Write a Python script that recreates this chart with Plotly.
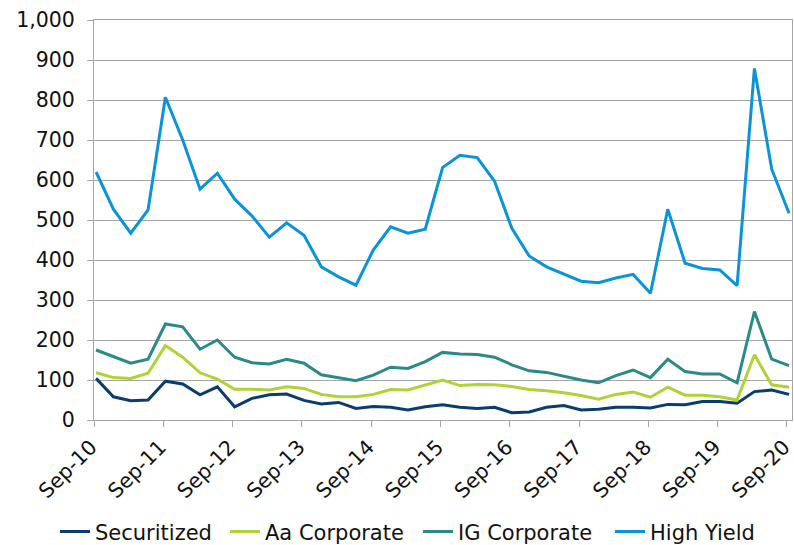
import plotly.graph_objects as go

quarters = [f"{m}-{y:02d}" for y in range(10, 21) for m in ["Mar", "Jun", "Sep", "Dec"]]
quarters = quarters[2:43]  # Sep-10 .. Sep-20

tick_labels = ["Sep-10", "Sep-11", "Sep-12", "Sep-13", "Sep-14", "Sep-15",
               "Sep-16", "Sep-17", "Sep-18", "Sep-19", "Sep-20"]

securitized = [104, 58, 48, 50, 97, 90, 63, 83, 33, 54, 63, 65, 49, 40, 44, 29, 34, 32, 25, 33,
               38, 32, 29, 32, 18, 20, 32, 36, 25, 27, 32, 32, 30, 39, 38, 46, 46, 42, 71, 75, 64]
aa_corporate = [118, 106, 104, 117, 186, 157, 118, 102, 77, 77, 75, 83, 79, 64, 58, 58, 64, 76, 75, 87,
                100, 86, 89, 88, 84, 76, 73, 68, 61, 52, 64, 70, 57, 82, 62, 62, 58, 50, 163, 88, 82]
ig_corporate = [175, 158, 142, 152, 240, 233, 177, 200, 157, 143, 140, 152, 142, 113, 106, 98, 112, 132, 129, 146,
                169, 165, 164, 157, 138, 123, 119, 110, 100, 93, 111, 125, 106, 152, 121, 115, 115, 93, 271, 152, 136]
high_yield = [620, 527, 467, 525, 807, 700, 577, 617, 552, 510, 457, 493, 462, 383, 358, 337, 425, 483, 467, 477,
              631, 662, 656, 597, 479, 410, 383, 365, 347, 343, 355, 364, 317, 527, 392, 379, 375, 336, 879, 627, 517]

series = [
    ("Securitized", securitized, "#0b3c6e"),
    ("Aa Corporate", aa_corporate, "#b0d236"),
    ("IG Corporate", ig_corporate, "#2a8a86"),
    ("High Yield", high_yield, "#0a93d6"),
]

fam = "DejaVu Sans, Verdana, sans-serif"
font = dict(family=fam, size=20.5, color="#111111")
grid = "#a6a6a6"

# one legend per series so each entry sits where the reference puts it
legend_ids = ["legend", "legend2", "legend3", "legend4"]
legend_left_px = [55, 225, 418, 610]

idx = list(range(len(quarters)))
fig = go.Figure()
for (name, vals, color), lid in zip(series, legend_ids):
    fig.add_trace(go.Scatter(x=idx, y=vals, mode="lines", name=name, legend=lid,
                             line=dict(color=color, width=3),
                             text=quarters, hovertemplate="%{text}: %{y}<extra>" + name + "</extra>"))

legends = {}
for lid, lx in zip(legend_ids, legend_left_px):
    legends[lid] = dict(orientation="h", xref="container", yref="container",
                        x=lx / 794, xanchor="left", y=0.024, yanchor="middle",
                        font=dict(family=fam, size=21, color="#111111"),
                        itemwidth=30, bgcolor="rgba(0,0,0,0)")

fig.update_layout(
    width=794, height=545,
    margin=dict(l=94, r=2, t=20, b=125, autoexpand=False),
    paper_bgcolor="white", plot_bgcolor="white",
    font=font,
    showlegend=True,
    **legends,
)
fig.update_xaxes(
    range=[-0.12, 40.17], automargin=False,
    tickvals=[4 * k - 0.12 for k in range(11)], ticktext=tick_labels,
    tickangle=-45, showgrid=False, zeroline=False, ticklabeloverflow="allow",
    ticklabelshift=-3,
    showline=True, linecolor=grid, linewidth=1, mirror=True,
    ticks="outside", ticklen=6, tickcolor=grid,
)
fig.update_yaxes(
    range=[0, 1000], dtick=100, tickformat=",", automargin=False,
    ticklabelstandoff=8,
    showgrid=True, gridcolor=grid, gridwidth=1, zeroline=False,
    showline=True, linecolor=grid, linewidth=1, mirror=True,
    ticks="outside", ticklen=6, tickcolor=grid,
)
fig.write_html("out.html", config={"displayModeBar": False},
               post_script="document.body.style.margin='0';document.body.style.overflow='hidden';")
